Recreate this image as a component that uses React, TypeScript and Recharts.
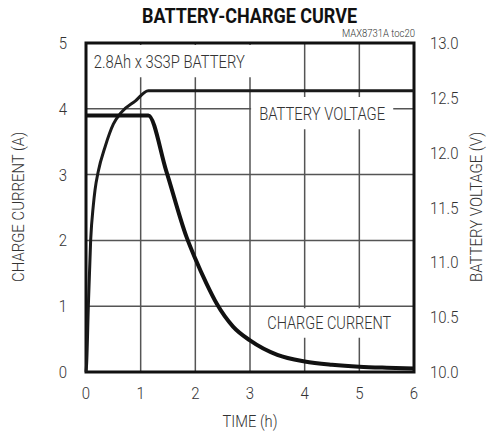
import React from 'react'
import {
  LineChart, Line, XAxis, YAxis, CartesianGrid, ReferenceArea,
} from 'recharts'

const FONT = 'Roboto, "DejaVu Sans Condensed", sans-serif'

// charge current (A) vs time (h)
const currentTime = [0, 0.5, 1.0, 1.14, 1.47, 1.84, 2.0, 2.2, 2.39, 2.69, 3.0, 3.5, 4.0, 4.5, 5.0, 5.5, 6.0]
const currentAmps = [3.9, 3.9, 3.9, 3.9, 3.05, 2.05, 1.72, 1.35, 1.04, 0.69, 0.48, 0.26, 0.16, 0.11, 0.08, 0.065, 0.055]

// battery voltage (V) vs time (h)
const voltageTime = [0, 0.012, 0.043, 0.085, 0.134, 0.165, 0.225, 0.347, 0.5, 0.65, 0.9, 1.14, 6.0]
const voltageVolts = [10.0, 10.08, 10.6, 11.2, 11.52, 11.66, 11.83, 12.05, 12.26, 12.37, 12.47, 12.565, 12.565]

const timeTicks = [0, 1, 2, 3, 4, 5, 6]
const currentTicks = [0, 1, 2, 3, 4, 5]
const voltageTicks = [10.0, 10.5, 11.0, 11.5, 12.0, 12.5, 13.0]

const currentData = currentTime.map((t, i) => ({ t, amps: currentAmps[i] }))
const voltageData = voltageTime.map((t, i) => ({ t, volts: voltageVolts[i] }))

// condensed-looking text: fixed length squeezes the glyphs like Helvetica Condensed
function NText({ x, y, text, len, size, rotate = 0, weight = 300, fill = '#333', anchor = 'middle' }: any) {
  return (
    <text x={0} y={0} transform={`translate(${x} ${y}) rotate(${rotate})`} textAnchor={anchor}
      fontFamily={FONT} fontSize={size} fontWeight={weight} fill={fill}
      textLength={len} lengthAdjust="spacingAndGlyphs">
      {text}
    </text>
  )
}

function tickText(x: number, y: number, label: string, anchor: string) {
  return (
    <text transform={`translate(${x} ${y}) scale(0.88 1)`} textAnchor={anchor}
      fontFamily={FONT} fontSize={17} fontWeight={300} fill="#333">
      {label}
    </text>
  )
}

const XTick = ({ x, y, payload }: any) => tickText(x, y + 12, String(payload.value), 'middle')
const LeftTick = ({ x, y, payload }: any) => tickText(x, y + 6, String(payload.value), 'end')
const RightTick = ({ x, y, payload }: any) => tickText(x, y + 6, Number(payload.value).toFixed(1), 'start')

const boxLabel = (text: string, len: number) => ({ viewBox }: any) => (
  <NText x={viewBox.x + viewBox.width / 2} y={viewBox.y + viewBox.height / 2 + 6.5} text={text} len={len} size={18} />
)

export default function App() {
  return (
    <div style={{ position: 'absolute', left: 0, top: 0, width: 489, height: 434, background: '#fff' }}>
      <LineChart width={489} height={434} margin={{ top: 43, right: 0, bottom: 0, left: 0 }}>
        <CartesianGrid yAxisId="amps" stroke="#555" strokeWidth={1.5}
          horizontalValues={[1, 2, 3, 4]} verticalValues={[1, 2, 3, 4, 5]} />
        <XAxis dataKey="t" type="number" domain={[0, 6]} ticks={timeTicks} height={62}
          tickSize={0} tickMargin={15} axisLine={false} tick={<XTick />} />
        <YAxis yAxisId="amps" type="number" domain={[0, 5]} ticks={currentTicks} width={86}
          tickSize={0} tickMargin={19} axisLine={false} tick={<LeftTick />} />
        <YAxis yAxisId="volts" orientation="right" type="number" domain={[10, 13]} ticks={voltageTicks} width={75}
          tickSize={0} tickMargin={16} axisLine={false} tick={<RightTick />} />

        <ReferenceArea yAxisId="amps" x1={0.03} x2={3.02} y1={4.48} y2={4.97} fill="#fff" fillOpacity={1} stroke="none"
          label={{ content: boxLabel('2.8Ah x 3S3P BATTERY', 151) }} />
        <ReferenceArea yAxisId="amps" x1={3.02} x2={5.62} y1={3.69} y2={4.18} fill="#fff" fillOpacity={1} stroke="none"
          label={{ content: boxLabel('BATTERY VOLTAGE', 126) }} />
        <ReferenceArea yAxisId="amps" x1={3.15} x2={5.75} y1={0.52} y2={0.97} fill="#fff" fillOpacity={1} stroke="none"
          label={{ content: boxLabel('CHARGE CURRENT', 124) }} />

        <Line yAxisId="volts" data={voltageData} dataKey="volts" type="monotone" stroke="#1a1a1a"
          strokeWidth={3} dot={false} isAnimationActive={false} />
        <Line yAxisId="amps" data={currentData} dataKey="amps" type="monotone" stroke="#111"
          strokeWidth={4} dot={false} isAnimationActive={false} />

        <ReferenceArea yAxisId="amps" x1={0} x2={6} y1={0} y2={5} fill="none" stroke="#111" strokeWidth={3} />
      </LineChart>
      <svg width={489} height={434} style={{ position: 'absolute', left: 0, top: 0, pointerEvents: 'none' }}>
        <NText x={249.5} y={23} text="BATTERY-CHARGE CURVE" len={215} size={20} weight={700} fill="#111" />
        <NText x={415} y={37} text="MAX8731A toc20" len={73} size={10} anchor="end" />
        <NText x={250} y={427} text="TIME (h)" len={55} size={17} />
        <NText x={24} y={207} text="CHARGE CURRENT (A)" len={150} size={16} rotate={-90} />
        <NText x={482} y={207} text="BATTERY VOLTAGE (V)" len={150} size={16} rotate={-90} />
      </svg>
    </div>
  )
}
